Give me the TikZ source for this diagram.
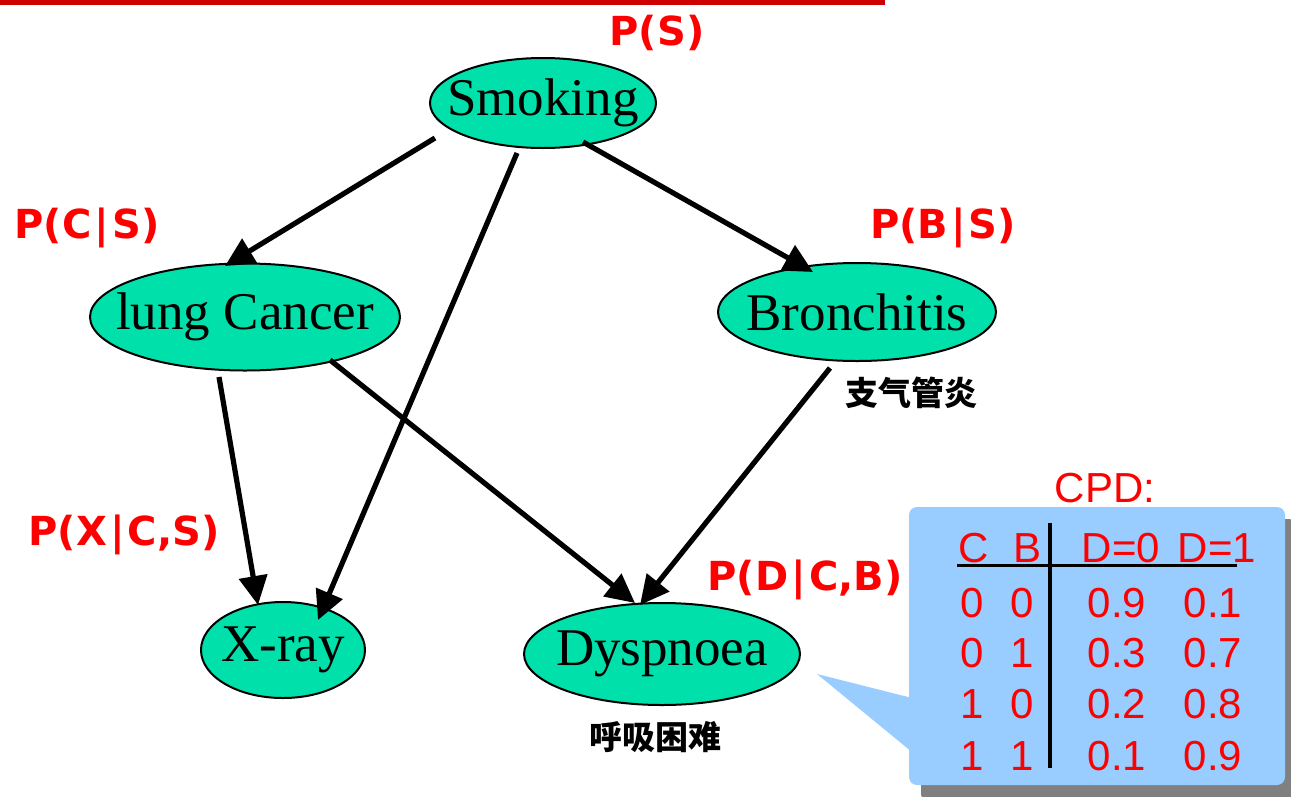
\documentclass[tikz,border=0pt]{standalone}
\usepackage{fontspec}
\setmainfont{Liberation Serif}
\newfontfamily\lblfont{DejaVu Sans}
\newfontfamily\tabfont{Liberation Sans}
\newfontfamily\cjk{Noto Sans CJK SC}
\usetikzlibrary{shapes.geometric,arrows.meta}
\definecolor{nodegreen}{RGB}{0,224,170}
\definecolor{lblred}{RGB}{255,0,0}
\definecolor{boxblue}{RGB}{153,204,255}
\definecolor{topred}{RGB}{204,0,0}
\definecolor{shadowgray}{RGB}{128,128,128}
\newcommand\zw[1]{\makebox[0pt]{#1}}
\tikzset{
  gnode/.style={ellipse, draw=black, line width=2pt, fill=nodegreen, inner sep=0pt,
    font=\fontsize{53}{60}\selectfont},
  plabel/.style={text=lblred, inner sep=0pt, font=\lblfont\bfseries\fontsize{40}{46}\selectfont},
  cnlabel/.style={text=black, inner sep=0pt, font=\cjk\bfseries\fontsize{33}{38}\selectfont},
  tabtext/.style={text=lblred, inner sep=0pt, anchor=base, font=\tabfont\fontsize{42}{48}\selectfont},
  arr/.style={line width=5.2pt, -{Triangle[length=29pt,width=28pt]}},
}
\newcommand\pipe{\kern3pt|\kern3pt}
\begin{document}
\begin{tikzpicture}[x=1pt,y=-1pt]
\useasboundingbox (0,0) rectangle (1291,796);
% top rule
\fill[topred] (0,0) rectangle (885,5);

% nodes
\node[gnode, minimum width=226pt, minimum height=90pt] (S) at (543,103) {\zw{Smoking}};
\node[gnode, minimum width=310pt, minimum height=107pt] (C) at (245,317) {\zw{lung Cancer}};
\node[gnode, minimum width=278pt, minimum height=98pt] (B) at (857,312) {\zw{Bronchitis}};
\node[gnode, minimum width=164pt, minimum height=96pt] (X) at (283,650) {\zw{X-ray}};
\node[gnode, minimum width=276pt, minimum height=102pt] (D) at (662,654) {\zw{Dyspnoea}};

% connectors
\draw[arr] ([shift={(-108,35)}]S.center) -- ([shift={(-20,-51)}]C.center);
\draw[arr] ([shift={(-26,50)}]S.center) -- ([shift={(35,-30)}]X.center);
\draw[arr] ([shift={(40,39)}]S.center) -- ([shift={(-44,-40)}]B.center);
\draw[arr] ([shift={(-26,60)}]C.center) -- ([shift={(-25,-45)}]X.center);
\draw[arr] ([shift={(85,43)}]C.center) -- ([shift={(-27,-51)}]D.center);
\draw[arr] ([shift={(-27,56)}]B.center) -- ([shift={(-22,-49)}]D.center);

% probability labels
\node[plabel] (pS) at (657,33) {P(S)};
\node[plabel] (pC) at (87,228) {P(C\pipe S)};
\node[plabel] (pB) at (943,228) {P(B\pipe S)};
\node[plabel] (pX) at (124,535) {P(X\pipe C,S)};
\node[plabel] (pD) at (805,580) {P(D\pipe C,B)};

% chinese labels
\node[cnlabel] (cnB) at (911,393) {支气管炎};
\node[cnlabel] (cnD) at (655,737) {呼吸困难};

% CPD callout
\fill[shadowgray, rounded corners=6pt] (921,519) rectangle (1295,800);
\fill[boxblue] (817,674) -- (912,698) -- (912,752) -- cycle;
\fill[boxblue, rounded corners=8pt] (909,507) rectangle (1285,785);
\node[tabtext] (cpd) at (1105,502) {CPD:};

% table lines
\draw[line width=3pt] (957,565) -- (1237,565);
\draw[line width=3.5pt] (1050,523) -- (1050,768);

% table header
\node[tabtext] (hC) at (974,562) {C};
\node[tabtext] (hB) at (1027,562) {B};
\node[tabtext] (hD0) at (1121,562) {D=0};
\node[tabtext] (hD1) at (1217,562) {D=1};

% table rows
\node[tabtext] (r1c) at (972,617) {0};
\node[tabtext] (r1b) at (1022,617) {0};
\node[tabtext] (r1x) at (1117,617) {0.9};
\node[tabtext] (r1y) at (1213,617) {0.1};
\node[tabtext] (r2c) at (972,667) {0};
\node[tabtext] (r2b) at (1022,667) {1};
\node[tabtext] (r2x) at (1117,667) {0.3};
\node[tabtext] (r2y) at (1213,667) {0.7};
\node[tabtext] (r3c) at (972,718) {1};
\node[tabtext] (r3b) at (1022,718) {0};
\node[tabtext] (r3x) at (1117,718) {0.2};
\node[tabtext] (r3y) at (1213,718) {0.8};
\node[tabtext] (r4c) at (972,770) {1};
\node[tabtext] (r4b) at (1022,770) {1};
\node[tabtext] (r4x) at (1117,770) {0.1};
\node[tabtext] (r4y) at (1213,770) {0.9};
\end{tikzpicture}
\end{document}
